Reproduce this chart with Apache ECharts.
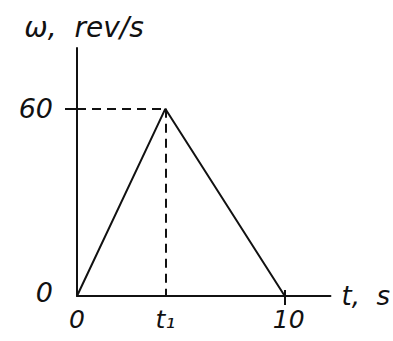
<!DOCTYPE html>
<html>
<head>
<meta charset="utf-8">
<script src="https://cdn.jsdelivr.net/npm/echarts@6/dist/echarts.min.js"></script>
<style>
  html, body { margin: 0; padding: 0; background: #fff; }
  #chart { width: 393px; height: 341px; }
</style>
</head>
<body>
<div id="chart"></div>
<script>
// Angular velocity profile: uniform speed-up to a peak at t1, then uniform slow-down to rest.
const t1 = 4.25;
const times = [0, t1, 10];            // s
const omega = [0, 60, 0];             // rev/s
const xTickValues = [0, t1, 10];
const xTickLabels = ['0', 't\u2081', '10'];
const yTickValues = [0, 60];
const yTickLabels = ['0', '60'];

const ink = '#111';
const font = '"DejaVu Sans", sans-serif';

const chart = echarts.init(document.getElementById('chart'), null, { renderer: 'svg' });

const xFmt = v => {
  const i = xTickValues.findIndex(t => Math.abs(t - v) < 1e-6);
  if (i < 0) return '';
  return v === 10 ? '{r|' + xTickLabels[i] + '}' : xTickLabels[i];
};
const yFmt = v => {
  const i = yTickValues.findIndex(t => Math.abs(t - v) < 1e-6);
  if (i < 0) return '';
  return v === 0 ? '{z|' + yTickLabels[i] + '}' : '{n|' + yTickLabels[i] + '}';
};

const peakT = times[1], peakW = omega[1];

chart.setOption({
  animation: false,
  backgroundColor: '#fff',
  grid: { left: 77, top: 48, width: 256, bottom: 45, containLabel: false },
  xAxis: [{
    type: 'value', min: 0, max: 12.2,
    name: 't,  s', nameLocation: 'end', nameGap: 11,
    nameTextStyle: { color: ink, fontSize: 26, fontFamily: font, fontStyle: 'italic', verticalAlign: 'middle' },
    axisLine: { show: true, onZero: false, lineStyle: { color: ink, width: 2 } },
    axisTick: { show: true, customValues: [10], length: 9, lineStyle: { color: ink, width: 2 } },
    axisLabel: {
      show: true, customValues: xTickValues, formatter: xFmt, color: ink, fontSize: 25, fontFamily: font, fontStyle: 'italic', margin: 11,
      rich: { r: { color: ink, fontSize: 25, fontFamily: font, fontStyle: 'italic', padding: [0, 0, 0, 8] } }
    },
    splitLine: { show: false }
  }, {
    type: 'value', min: 0, max: 12.2, position: 'bottom',
    axisLine: { show: false },
    axisTick: { show: true, inside: true, customValues: [10], length: 6, lineStyle: { color: ink, width: 2 } },
    axisLabel: { show: false },
    splitLine: { show: false }
  }],
  yAxis: [{
    type: 'value', min: 0, max: 79.5,
    name: '\u03c9,  rev/s', nameLocation: 'end', nameGap: 7,
    nameTextStyle: { color: ink, fontSize: 28, fontFamily: font, fontStyle: 'italic', padding: [0, 0, 0, 14] },
    axisLine: { show: true, onZero: false, lineStyle: { color: ink, width: 2 } },
    axisTick: { show: true, customValues: [60], length: 12, lineStyle: { color: ink, width: 2 } },
    axisLabel: {
      show: true, customValues: yTickValues, formatter: yFmt, margin: 24,
      rich: {
        n: { color: ink, fontSize: 27, fontFamily: font, fontStyle: 'italic' },
        z: { color: ink, fontSize: 27, fontFamily: font, fontStyle: 'italic', padding: [0, 0, 8, 0] }
      }
    },
    splitLine: { show: false }
  }, {
    type: 'value', min: 0, max: 79.5, position: 'left',
    axisLine: { show: false },
    axisTick: { show: true, inside: true, customValues: [60], length: 8, lineStyle: { color: ink, width: 2 } },
    axisLabel: { show: false },
    splitLine: { show: false }
  }],
  series: [{
    type: 'line',
    data: times.map((t, i) => [t, omega[i]]),
    symbol: 'none',
    lineStyle: { color: ink, width: 2 },
    markLine: {
      silent: true,
      symbol: 'none',
      label: { show: false },
      lineStyle: { color: ink, width: 2, type: [9, 6] },
      data: [
        [{ coord: [0, peakW] }, { coord: [peakT, peakW] }],
        [{ coord: [peakT, peakW] }, { coord: [peakT, 0] }]
      ]
    }
  }]
});
</script>
</body>
</html>
